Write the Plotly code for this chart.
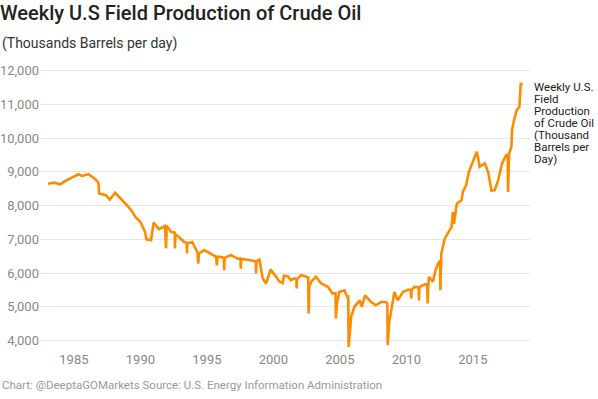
import plotly.graph_objects as go
import pandas as pd

# Decimal-year positions and weekly production values (thousand barrels/day)
years = [
    1983.05, 1983.5, 1984.0, 1984.35, 1984.85, 1985.35, 1985.6, 1986.1, 1986.4, 1986.75,
    1986.85, 1986.9, 1987.4, 1987.7, 1988.1, 1988.65, 1989.0, 1989.4, 1989.65, 1990.0,
    1990.35, 1990.45, 1990.8, 1991.0, 1991.4, 1991.85, 1991.93, 1991.98, 1992.3, 1992.58,
    1992.6, 1992.63, 1992.9, 1993.3, 1993.48, 1993.5, 1993.53, 1993.9, 1994.3, 1994.35,
    1994.4, 1994.8, 1995.3, 1995.7, 1995.75, 1995.8, 1996.0, 1996.28, 1996.3, 1996.33,
    1996.8, 1997.3, 1997.53, 1997.55, 1997.58, 1997.9, 1998.4, 1998.68, 1998.7, 1998.73,
    1998.95, 1999.2, 1999.45, 1999.8, 2000.3, 2000.45, 2000.7, 2000.8, 2001.1, 2001.3,
    2001.6, 2001.73, 2001.75, 2001.78, 2002.1, 2002.45, 2002.62, 2002.65, 2002.7, 2002.85,
    2003.2, 2003.6, 2004.1, 2004.45, 2004.67, 2004.7, 2004.78, 2004.95, 2005.35, 2005.55,
    2005.63, 2005.66, 2005.75, 2005.85, 2006.1, 2006.5, 2006.65, 2006.9, 2007.35, 2007.7,
    2008.1, 2008.45, 2008.57, 2008.6, 2008.7, 2008.85, 2009.1, 2009.35, 2009.75, 2010.1,
    2010.34, 2010.37, 2010.4, 2010.6, 2010.92, 2010.95, 2010.98, 2011.25, 2011.45, 2011.57,
    2011.6, 2011.65, 2011.7, 2012.0, 2012.2, 2012.45, 2012.53, 2012.56, 2012.6, 2012.63,
    2012.9, 2013.2, 2013.4, 2013.5, 2013.58, 2013.8, 2014.15, 2014.25, 2014.5, 2014.7,
    2014.95, 2015.15, 2015.3, 2015.45, 2015.5, 2015.9, 2016.15, 2016.4, 2016.65, 2016.9,
    2017.2, 2017.5, 2017.62, 2017.65, 2017.7, 2017.73, 2017.9, 2017.95, 2018.1, 2018.3,
    2018.5, 2018.55, 2018.6, 2018.75,
]
production = [
    8650, 8680, 8630, 8730, 8830, 8930, 8880, 8930, 8850, 8730,
    8660, 8360, 8310, 8180, 8380, 8160, 8010, 7810, 7650, 7520,
    7220, 7000, 6975, 7500, 7300, 7400, 6730, 7400, 7220, 7200,
    6730, 7150, 7070, 6920, 6900, 6580, 6880, 6920, 6600, 6280,
    6580, 6680, 6580, 6480, 6230, 6480, 6480, 6450, 6080, 6450,
    6530, 6430, 6420, 6130, 6420, 6400, 6380, 6350, 5985, 6350,
    6400, 5835, 5690, 6105, 5835, 5750, 5700, 5920, 5900, 5790,
    5840, 5820, 5540, 5820, 5940, 5890, 5870, 4800, 5600, 5750,
    5890, 5690, 5590, 5390, 5400, 4650, 5100, 5440, 5490, 5290,
    5300, 3810, 4300, 4700, 5000, 5190, 5000, 5340, 5140, 5045,
    5140, 5140, 5100, 3860, 4500, 4865, 5440, 5190, 5440, 5500,
    5500, 5245, 5500, 5590, 5580, 5190, 5580, 5640, 5670, 5650,
    5095, 5600, 5890, 5740, 6090, 6330, 6350, 5490, 6300, 6580,
    7025, 7220, 7370, 7815, 7450, 8060, 8160, 8405, 8605, 9000,
    9250, 9395, 9595, 9300, 9150, 9250, 9000, 8440, 8460, 8750,
    9250, 9495, 9500, 8405, 9400, 9545, 9745, 10240, 10535, 10830,
    10925, 11325, 11605, 11600,
]

tick_years = [1985, 1990, 1995, 2000, 2005, 2010, 2015]
y_ticks = [4000, 5000, 6000, 7000, 8000, 9000, 10000, 11000, 12000]
series_label = ["Weekly U.S.", "Field", "Production", "of Crude Oil", "(Thousand", "Barrels per", "Day)"]


def to_date(y):
    start = pd.Timestamp(year=int(y), month=1, day=1)
    end = pd.Timestamp(year=int(y) + 1, month=1, day=1)
    return start + (end - start) * (y - int(y))


dates = [to_date(y) for y in years]

fig = go.Figure()
fig.add_trace(go.Scatter(
    x=dates, y=production, mode="lines",
    line=dict(color="#ff8c00", width=2.6),
    hoverinfo="x+y", showlegend=False,
))

# plot area geometry (pixels)
W, H = 598, 399
L, R, T, B = 40, 530, 60, 350
pw, ph = R - L, B - T

fig.update_layout(
    width=W, height=H,
    margin=dict(l=L, r=W - R, t=T, b=H - B, pad=0, autoexpand=False),
    paper_bgcolor="white", plot_bgcolor="white",
    font=dict(family="Roboto", color="#333"),
    title=dict(
        text="Weekly U.S Field Production of Crude Oil",
        font=dict(family="Roboto", size=20, color="#222", weight=500),
        xref="container", yref="container", x=0, xanchor="left",
        y=1 - 13 / H, yanchor="middle",
        pad=dict(l=0, r=0, t=0, b=0),
    ),
    xaxis=dict(
        type="date", automargin=False,
        range=[to_date(1982.45), to_date(2019.3)],
        tickvals=[to_date(y) for y in tick_years],
        ticktext=[str(y) for y in tick_years],
        showgrid=False, zeroline=False, showline=False,
        ticks="", tickfont=dict(family="Roboto", size=13, color="#888"),
    ),
    yaxis=dict(
        automargin=False,
        range=[3718, 12317],
        tickvals=y_ticks,
        ticktext=[f"{v:,}" for v in y_ticks],
        showgrid=True, gridcolor="#e6e6e6", gridwidth=1,
        zeroline=False, showline=False, ticks="",
        tickfont=dict(family="Roboto", size=13, color="#888"),
    ),
)


def px_x(x):
    return (x - L) / pw


def px_y(y):
    return (B - y) / ph


fig.add_annotation(
    text="(Thousands Barrels per day)", xref="paper", yref="paper",
    x=px_x(0), y=px_y(44), xanchor="left", yanchor="middle", showarrow=False,
    font=dict(family="Roboto", size=14, color="#333"),
)
fig.add_annotation(
    text="Chart: @DeeptaGOMarkets Source: U.S. Energy Information Administration",
    xref="paper", yref="paper", x=px_x(0), y=px_y(385),
    xanchor="left", yanchor="middle", showarrow=False,
    font=dict(family="Roboto", size=11.5, color="#999"),
)
for i, line in enumerate(series_label):
    fig.add_annotation(
        text=line, xref="paper", yref="paper",
        x=px_x(532), y=px_y(86.7 + 12.1 * i),
        xanchor="left", yanchor="middle", showarrow=False,
        font=dict(family="Roboto", size=11.5, color="#222"),
    )

fig.write_html(
    "out.html",
    config={"displayModeBar": False},
    post_script="document.body.style.margin='0';document.body.style.padding='0';",
)
